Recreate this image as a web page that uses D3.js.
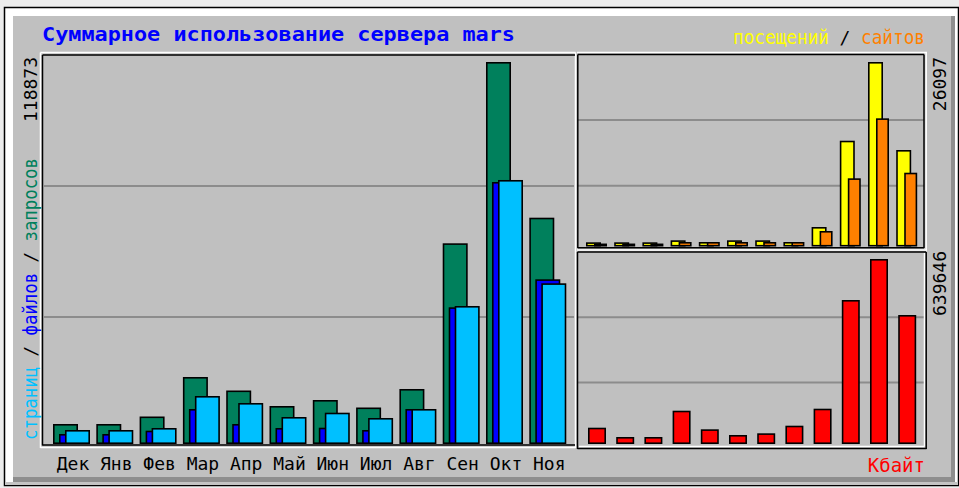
<!DOCTYPE html>
<html><head><meta charset="utf-8">
<script src="https://cdn.jsdelivr.net/npm/d3@7"></script>
<style>body{margin:0;background:#ececec}svg{display:block}</style>
</head><body>
<script>
const months = ["Дек","Янв","Фев","Мар","Апр","Май","Июн","Июл","Авг","Сен","Окт","Ноя"];
const hits   = [6224,6224,8558,20850,16649,11825,13692,11359,17116,62456,118873,70423];
const files  = [3112,3112,4139,10892,6224,4979,5073,4357,10892,42541,81533,51254];
const pages  = [4357,4357,4979,14937,12759,8402,9741,8091,10892,42945,82156,50009];
const visits = [594,594,594,877,636,877,877,636,2757,14963,26097,13648];
const sites  = [420,420,420,636,636,636,636,636,2192,9645,18130,10437];
const kbytes = [56357,24203,24203,115135,50825,31118,36995,63272,122050,497880,639646,446018];
const maxMain = 118873, maxVisits = 26097, maxKbytes = 639646;
const title = "Суммарное использование сервера mars";
const topLegend = [["посещений","#ffff00"],[" / ","#000000"],["сайтов","#ff8000"]];
const leftLegend = [["страниц","#00c0ff"],[" / ","#000000"],["файлов","#0000ff"],[" / ","#000000"],["запросов","#00805c"]];

const W = 959, H = 488;
const svg = d3.select("body").append("svg").attr("width", W).attr("height", H);
const mono = "'DejaVu Sans Mono', 'Liberation Mono', monospace";

// outer 3D frame
svg.append("rect").attr("x",0).attr("y",0).attr("width",W).attr("height",H).attr("fill","#ececec");
svg.append("rect").attr("x",4.5).attr("y",7.5).attr("width",954).attr("height",478).attr("fill","#ffffff").attr("stroke","#000").attr("stroke-width",1.5);
svg.append("rect").attr("x",13).attr("y",16).attr("width",942).attr("height",466).attr("fill","#8e8e8e");
svg.append("rect").attr("x",13).attr("y",16).attr("width",938).attr("height",461).attr("fill","#c0c0c0");
svg.append("rect").attr("x",5).attr("y",482).attr("width",953).attr("height",3).attr("fill","#c4c4c4");

// scales
const xMain = d3.scaleBand().domain(months).range([53, 572.6]);
const yMain = d3.scaleLinear().domain([0, maxMain]).range([444, 62]);
const xR = d3.scaleBand().domain(months).range([586, 924.4]);
const yVis = d3.scaleLinear().domain([0, maxVisits]).range([246.5, 62]);
const yKb = d3.scaleLinear().domain([0, maxKbytes]).range([444, 259]);

// gridlines (panel divided in thirds)
function grid(x0, x1, top, zero) {
  const g = svg.append("g");
  [1,2].forEach(k => {
    const y = top + (zero - top) * k / 3;
    g.append("line").attr("x1", x0).attr("x2", x1).attr("y1", y).attr("y2", y)
      .attr("stroke", "#8c8c8c").attr("stroke-width", 2);
  });
}
grid(44, 574, 55, 448);
grid(578, 924, 54.3, 251.4);
grid(578, 924, 251.7, 448);

function bars(data, x, y, base, off, w, color) {
  svg.append("g").selectAll("rect").data(data).join("rect")
    .attr("x", (d,i) => x(months[i]) + off + 0.8)
    .attr("y", d => y(d) + 0.8)
    .attr("width", w - 1.6)
    .attr("height", d => Math.max(0.5, base - y(d) - 1.6))
    .attr("fill", color).attr("stroke", "#000").attr("stroke-width", 1.6);
}
bars(hits, xMain, yMain, 444, 0, 25, "#00805c");
bars(files, xMain, yMain, 444, 6, 25, "#0000ff");
bars(pages, xMain, yMain, 444, 12, 25, "#00c0ff");
bars(visits, xR, yVis, 246.5, 0, 15, "#ffff00");
bars(sites, xR, yVis, 246.5, 8, 13, "#ff8000");
bars(kbytes, xR, yKb, 444, 2, 18, "#ff0000");

// panel frames
function line(x1,y1,x2,y2,c,w){svg.append("line").attr("x1",x1).attr("y1",y1).attr("x2",x2).attr("y2",y2).attr("stroke",c).attr("stroke-width",w||1.5);}
// main
line(40.5,52.5,575.5,52.5,"#fff"); line(40.5,52.5,40.5,448,"#fff");
line(40.5,447.5,575.5,447.5,"#fff"); line(575.5,52.5,575.5,448,"#fff");
line(42.5,55,575,55,"#000"); line(42.5,55,42.5,445.5,"#000"); line(42.5,445,575,445,"#000");
// top right
line(577,52.5,927,52.5,"#fff"); line(926.2,52.5,926.2,250.5,"#fff"); line(577,250,927,250,"#fff");
line(577.8,54.5,924,54.5,"#000"); line(577.8,54.5,577.8,248,"#000"); line(924,54.5,924,248,"#000"); line(577.8,247.8,924,247.8,"#000");
// bottom right
line(577.5,252,926,252,"#000"); line(577.5,252,577.5,449,"#000");
line(579,446.5,924.5,446.5,"#fff"); line(924.5,253,924.5,446.5,"#fff");
line(577.5,448.6,926.5,448.6,"#000"); line(926.2,252,926.2,449,"#000");

// title
svg.append("text").attr("x",42).attr("y",41).attr("font-family",mono).attr("font-weight","bold")
  .attr("font-size",20).attr("fill","#0000ff").attr("textLength",473).attr("lengthAdjust","spacingAndGlyphs").text(title);

// top-right legend: each piece as own text, laid out left to right
{
  const per = 192 / 18;
  let x = 925 - 192;
  topLegend.forEach(([t, c]) => {
    const w = t.length * per;
    const s = t.trim();
    const el = svg.append("text").attr("y", 44).attr("font-family", mono).attr("font-size", 20).attr("fill", c).text(s);
    if (s.length > 1) el.attr("x", x).attr("textLength", w).attr("lengthAdjust", "spacingAndGlyphs");
    else el.attr("x", x + w / 2).attr("text-anchor", "middle").attr("font-size", 18);
    x += w;
  });
}

// left vertical legend (reads bottom to top)
{
  const per = 282 / 27;
  let y = 440;
  leftLegend.forEach(([t, c]) => {
    const w = t.length * per;
    const s = t.trim();
    const el = svg.append("text").attr("font-family", mono).attr("font-size", 19).attr("fill", c).text(s);
    if (s.length > 1) el.attr("transform", `translate(37,${y}) rotate(-90)`).attr("textLength", w).attr("lengthAdjust", "spacingAndGlyphs");
    else el.attr("transform", `translate(37,${y - w / 2}) rotate(-90)`).attr("text-anchor", "middle").attr("font-size", 18);
    y -= w;
  });
}

// max labels
function vlabel(x, y, txt) {
  svg.append("text").attr("transform",`translate(${x},${y}) rotate(-90)`).attr("text-anchor","end")
    .attr("font-family",mono).attr("font-size",18).attr("fill","#000").text(txt);
}
vlabel(37, 57, String(maxMain));
vlabel(946, 57, String(maxVisits));
vlabel(946, 251, String(maxKbytes));

// Kbytes legend
svg.append("text").attr("x",925).attr("y",472).attr("text-anchor","end").attr("font-family",mono)
  .attr("font-size",19).attr("fill","#ff0000").text("Кбайт");

// month labels
svg.append("g").selectAll("text").data(months).join("text")
  .attr("x", d => xMain(d) + 20).attr("y", 470).attr("text-anchor","middle")
  .attr("font-family",mono).attr("font-size",18).attr("fill","#000").text(d => d);
</script>
</body></html>
